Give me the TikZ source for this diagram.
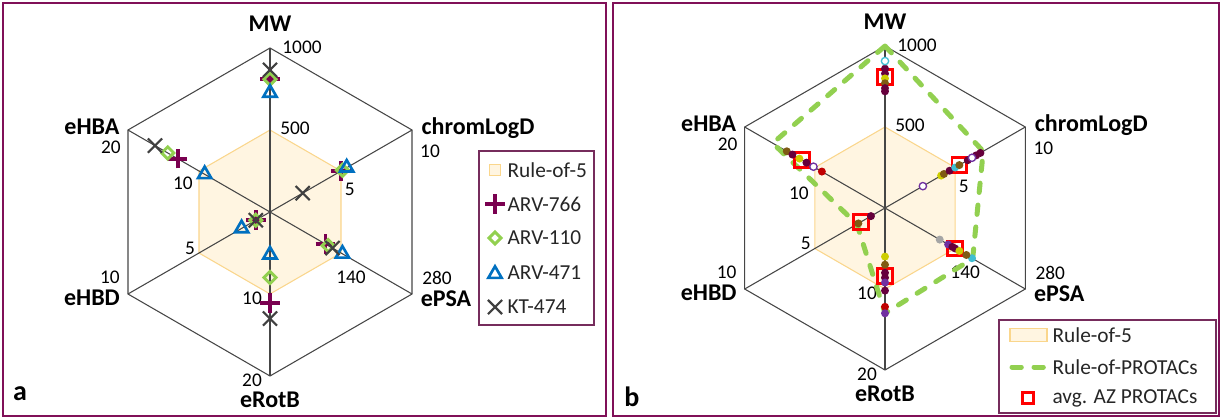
\documentclass[tikz,border=0pt]{standalone}
\usepackage{fontspec}
\setmainfont{Carlito}
\usepackage{tikz}
\usetikzlibrary{shapes.geometric,shapes.misc}

\definecolor{framepurple}{RGB}{128,16,88}
\definecolor{legendframe}{RGB}{118,44,92}
\definecolor{gridgray}{RGB}{70,70,70}
\definecolor{rofive}{RGB}{255,245,225}
\definecolor{rofiveedge}{RGB}{250,214,140}
\definecolor{arvmaroon}{RGB}{122,0,80}
\definecolor{arvgreen}{RGB}{146,208,80}
\definecolor{arvblue}{RGB}{0,112,192}
\definecolor{ktgray}{RGB}{64,64,64}
\definecolor{dotmaroon}{RGB}{102,0,60}
\definecolor{dotbrown}{RGB}{127,90,20}
\definecolor{dotyellow}{RGB}{205,205,0}
\definecolor{dotpurple}{RGB}{112,48,160}
\definecolor{dotred}{RGB}{192,0,0}
\definecolor{dotcyan}{RGB}{64,190,210}
\definecolor{dotgray}{RGB}{165,165,165}

\tikzset{
  panelframe/.style={draw=framepurple, line width=1.5pt},
  legendbox/.style={draw=legendframe, line width=1pt, inner sep=0pt},
  gridline/.style={draw=gridgray, line width=0.8pt},
  rulefive/.style={fill=rofive, draw=rofiveedge, line width=0.8pt},
  protacline/.style={draw=arvgreen, line width=3.75pt, line cap=round, dash pattern=on 7pt off 9.5pt},
  axislabel/.style={font=\fontsize{18}{20}\selectfont\bfseries, inner sep=1pt},
  ticklabel/.style={font=\fontsize{14.5}{16}\selectfont, inner sep=1pt},
  legendtext/.style={font=\fontsize{16}{18}\selectfont, text=black!85, inner sep=1pt, anchor=west},
  panellabel/.style={font=\fontsize{21}{23}\selectfont\bfseries, inner sep=1pt},
  plusmark/.style={cross out, rotate=45, draw=arvmaroon, line width=2.8pt, minimum size=7.5pt, inner sep=0pt},
  diamark/.style={diamond, draw=arvgreen, line width=2.2pt, minimum size=10pt, inner sep=0pt},
  trimark/.style={regular polygon, regular polygon sides=3, draw=arvblue, line width=2pt, minimum size=11.5pt, inner sep=0pt},
  xmark/.style={cross out, draw=ktgray, line width=1.6pt, minimum size=9pt, inner sep=0pt},
  avgbox/.style={rectangle, draw=red, line width=2.2pt, minimum size=11pt, inner sep=0pt},
  pdot/.style={circle, fill=#1, inner sep=0pt, minimum size=6pt},
  pring/.style={circle, draw=#1, fill=white, line width=1pt, inner sep=0pt, minimum size=5.5pt}
}

% hexagonal grid with the six axes, rule-of-5 area and scale values
% #2 = vertical shift of the inner eHBA value
\newcommand{\radargrid}[2]{%
  \coordinate (#1O) at (0,0);
  \coordinate (#1MW) at (90:1);
  \coordinate (#1LogD) at (30:1);
  \coordinate (#1PSA) at (-30:1);
  \coordinate (#1Rot) at (-90:1);
  \coordinate (#1HBD) at (210:1);
  \coordinate (#1HBA) at (150:1);
  \coordinate (#1MWh) at (90:.5);
  \coordinate (#1LogDh) at (30:.5);
  \coordinate (#1PSAh) at (-30:.5);
  \coordinate (#1Roth) at (-90:.5);
  \coordinate (#1HBDh) at (210:.5);
  \coordinate (#1HBAh) at (150:.5);
  \draw[rulefive] (#1MWh) -- (#1LogDh) -- (#1PSAh) -- (#1Roth) -- (#1HBDh) -- (#1HBAh) -- cycle;
  \draw[gridline] (#1MW) -- (#1LogD) -- (#1PSA) -- (#1Rot) -- (#1HBD) -- (#1HBA) -- cycle;
  \draw[gridline] (#1MW) -- (#1Rot);
  \draw[gridline] (#1LogD) -- (#1HBD);
  \draw[gridline] (#1HBA) -- (#1PSA);
  \node[axislabel, yshift=18.5pt] (#1MWname) at (#1MW) {MW};
  \node[axislabel, xshift=49.5pt, yshift=1.5pt] (#1LogDname) at (#1LogD) {chromLogD};
  \node[axislabel, xshift=25.5pt, yshift=-3.75pt] (#1PSAname) at (#1PSA) {ePSA};
  \node[axislabel, yshift=-18pt] (#1Rotname) at (#1Rot) {eRotB};
  \node[axislabel, xshift=-27pt, yshift=-3pt] (#1HBDname) at (#1HBD) {eHBD};
  \node[axislabel, xshift=-27pt, yshift=2.25pt] (#1HBAname) at (#1HBA) {eHBA};
  \node[ticklabel, xshift=24pt, yshift=0.75pt] (#1MWmax) at (#1MW) {1000};
  \node[ticklabel, xshift=18.75pt, yshift=1.5pt] (#1MWmid) at (#1MWh) {500};
  \node[ticklabel, xshift=13.5pt, yshift=-15.75pt] (#1LogDmax) at (#1LogD) {10};
  \node[ticklabel, xshift=6.5pt, yshift=-14pt] (#1LogDmid) at (#1LogDh) {5};
  \node[ticklabel, xshift=18.75pt, yshift=12pt] (#1PSAmax) at (#1PSA) {280};
  \node[ticklabel, xshift=7.5pt, yshift=-18pt] (#1PSAmid) at (#1PSAh) {140};
  \node[ticklabel, xshift=-13.5pt, yshift=-3pt] (#1Rotmax) at (#1Rot) {20};
  \node[ticklabel, xshift=-13.5pt, yshift=-3pt] (#1Rotmid) at (#1Roth) {10};
  \node[ticklabel, xshift=-13.5pt, yshift=12.75pt] (#1HBDmax) at (#1HBD) {10};
  \node[ticklabel, xshift=-6.75pt, yshift=3.75pt] (#1HBDmid) at (#1HBDh) {5};
  \node[ticklabel, xshift=-12.75pt, yshift=-12.75pt] (#1HBAmax) at (#1HBA) {20};
  \node[ticklabel, xshift=-12pt, yshift=#2] (#1HBAmid) at (#1HBAh) {10};
}

\begin{document}
\begin{tikzpicture}[x=0.75pt, y=-0.75pt]
  \useasboundingbox (0,0) rectangle (1222,419);
  \draw[panelframe] (3,3) rectangle (606,416);
  \draw[panelframe] (613,3) rectangle (1219,416);

  % panel a: single compounds
  \begin{scope}[shift={(270,212)}, x=123pt, y=123pt]
    \radargrid{a}{-9pt}
    \foreach \ang/\val [count=\i] in {90/.81, 30/.50, -30/.39, -90/.555, 210/.10, 150/.65}
      \node[plusmark] (arv766-\i) at (\ang:\val) {};
    \foreach \ang/\val [count=\i] in {90/.81, 30/.51, -30/.41, -90/.40, 210/.10, 150/.72}
      \node[diamark] (arv110-\i) at (\ang:\val) {};
    \foreach \ang/\val [count=\i] in {90/.726, 30/.54, -30/.51, -90/.26, 210/.20, 150/.46}
      \node[trimark] (arv471-\i) at (\ang:\val) {};
    \foreach \ang/\val [count=\i] in {90/.866, 30/.23, -30/.44, -90/.65, 210/.10, 150/.81}
      \node[xmark] (kt474-\i) at (\ang:\val) {};
  \end{scope}
  \node[panellabel] (alabel) at (20,394) {a};

  \node[legendbox, minimum width=86.25pt, minimum height=130.5pt] (keyA) at (536.5,238) {};
  \node[rulefive, minimum size=8pt, inner sep=0pt] (keyA1) at (495,170) {};
  \node[plusmark] (keyA2) at (495,204) {};
  \node[diamark] (keyA3) at (495,238) {};
  \node[trimark] (keyA4) at (495,274) {};
  \node[xmark] (keyA5) at (495,307) {};
  \node[legendtext] (keyA1t) at (506,170) {Rule-of-5};
  \node[legendtext] (keyA2t) at (506,204) {ARV-766};
  \node[legendtext] (keyA3t) at (506,238) {ARV-110};
  \node[legendtext] (keyA4t) at (506,273) {ARV-471};
  \node[legendtext] (keyA5t) at (506,307) {KT-474};

  % panel b: AZ PROTACs
  \begin{scope}[shift={(885,208)}, x=121.5pt, y=121.5pt]
    \radargrid{b}{-19pt}
    \coordinate (rpMW) at (90:1);
    \coordinate (rpLogD) at (30:.7);
    \coordinate (rpPSA) at (-30:.625);
    \coordinate (rpRot) at (-90:.65);
    \coordinate (rpHBD) at (210:.2);
    \coordinate (rpHBA) at (150:.8);
    \draw[protacline] (rpMW) -- (rpLogD) -- (rpPSA) -- (rpRot) -- (rpHBD) -- (rpHBA) -- cycle;
    \foreach \ang/\val [count=\i] in {90/.81, 30/.53, -30/.50, -90/.42, 210/.17, 150/.59}
      \node[avgbox] (avg-\i) at (\ang:\val) {};
    \foreach \ang/\val/\col [count=\i] in {
        90/.86/dotmaroon, 90/.83/dotmaroon, 90/.80/dotyellow, 90/.77/dotbrown, 90/.74/dotmaroon, 90/.72/dotmaroon,
        30/.40/dotyellow, 30/.42/dotbrown, 30/.46/dotmaroon, 30/.50/dotcyan, 30/.53/dotbrown,
        30/.59/dotmaroon, 30/.65/dotmaroon, 30/.68/dotmaroon,
        -30/.39/dotgray, -30/.45/dotpurple, -30/.48/dotmaroon, -30/.50/dotmaroon, -30/.53/dotyellow,
        -30/.62/dotcyan, -30/.58/dotbrown,
        -90/.30/dotyellow, -90/.35/dotbrown, -90/.40/dotmaroon, -90/.43/dotmaroon, -90/.46/dotpurple,
        -90/.51/dotmaroon, -90/.61/dotred, -90/.65/dotpurple,
        210/.10/dotmaroon, 210/.19/dotbrown,
        150/.70/dotbrown, 150/.66/dotmaroon, 150/.61/dotyellow, 150/.56/dotmaroon, 150/.45/dotred}
      \node[pdot=\col] (az-\i) at (\ang:\val) {};
    \foreach \ang/\val/\col [count=\i] in {90/.907/dotcyan, 30/.27/dotpurple, 30/.62/dotpurple, 150/.51/dotpurple}
      \node[pring=\col] (azo-\i) at (\ang:\val) {};
  \end{scope}
  \node[panellabel] (blabel) at (632,397) {b};

  \node[legendbox, minimum width=162.75pt, minimum height=69.75pt] (keyB) at (1107.5,366.5) {};
  \node[rulefive, minimum width=27.75pt, minimum height=9.75pt, inner sep=0pt] (keyB1) at (1028.5,335) {};
  \coordinate (keyB2a) at (1012,367);
  \coordinate (keyB2b) at (1047,367);
  \draw[protacline] (keyB2a) -- (keyB2b);
  \node[avgbox, minimum size=8pt, line width=2pt] (keyB3) at (1028,398) {};
  \node[legendtext] (keyB1t) at (1051,335) {Rule-of-5};
  \node[legendtext] (keyB2t) at (1051,367) {Rule-of-PROTACs};
  \node[legendtext] (keyB3t) at (1051,398) {avg. AZ PROTACs};
\end{tikzpicture}
\end{document}
